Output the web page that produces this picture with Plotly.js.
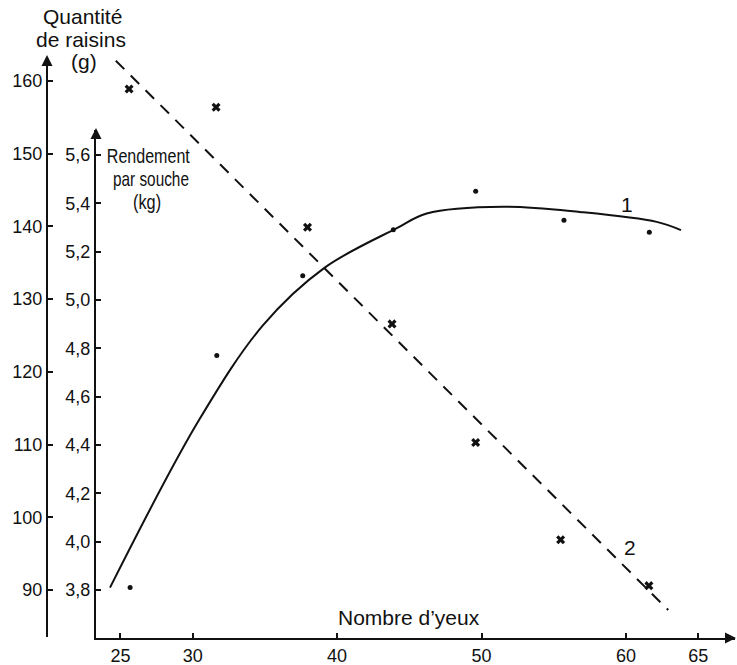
<!DOCTYPE html>
<html>
<head>
<meta charset="utf-8">
<script src="https://cdn.plot.ly/plotly-3.0.1.min.js"></script>
<style>
  html, body { margin: 0; padding: 0; background: #fff; }
  #chart { width: 737px; height: 665px; }
</style>
</head>
<body>
<div id="chart"></div>
<script>
// ---- data ----
// Rendement par souche (kg) – dots
const yieldX = [25.67, 31.67, 37.62, 43.89, 49.59, 55.70, 61.61];
const yieldKg = [3.81, 4.77, 5.10, 5.29, 5.45, 5.33, 5.28];
// Quantité de raisins (g) – crosses
const grapeX = [25.60, 31.62, 37.95, 43.80, 49.59, 55.47, 61.58];
const grapeG = [158.9, 156.4, 139.9, 126.6, 110.3, 96.9, 90.6];
// Curve 1 (drawn yield curve, kg)
const curve1X = [24.28, 30.44, 34.89, 39.12, 44.13, 46.20, 51.50, 56.81, 62.12, 63.80];
const curve1Kg = [3.810, 4.503, 4.897, 5.133, 5.297, 5.358, 5.386, 5.364, 5.323, 5.289];
// Curve 2 (drawn straight line, g)
const line2X = [24.68, 62.92];
const line2G = [162.8, 87.25];
// Ticks
const xTicks = [25, 30, 40, 50, 60, 65];
const kgTicks = [3.8, 4.0, 4.2, 4.4, 4.6, 4.8, 5.0, 5.2, 5.4, 5.6];
const kgTickText = ['3,8', '4,0', '4,2', '4,4', '4,6', '4,8', '5,0', '5,2', '5,4', '5,6'];
const gTicks = [90, 100, 110, 120, 130, 140, 150, 160];

// ---- layout helpers (pixel -> paper) ----
const W = 737, H = 665;
const M = { l: 0, r: 0, t: 0, b: 27 };
const PW = W - M.l - M.r, PH = H - M.t - M.b;
const px = v => (v - M.l) / PW;
const py = v => (PH + M.t - v) / PH;

const ink = '#111';
const fontMain = 'Liberation Sans, Arial, Helvetica, sans-serif';

const traces = [
  {
    x: curve1X, y: curve1Kg, xaxis: 'x', yaxis: 'y',
    mode: 'lines', line: { color: ink, width: 2, shape: 'spline', smoothing: 1 },
    hoverinfo: 'skip'
  },
  {
    x: yieldX, y: yieldKg, xaxis: 'x', yaxis: 'y',
    mode: 'markers', marker: { color: ink, size: 5, symbol: 'circle' }
  },
  {
    x: line2X, y: line2G, xaxis: 'x', yaxis: 'y2',
    mode: 'lines', line: { color: ink, width: 2, dash: '12px,9px' },
    hoverinfo: 'skip'
  },
  {
    x: grapeX, y: grapeG, xaxis: 'x', yaxis: 'y2',
    mode: 'markers', marker: { color: ink, size: 8, symbol: 'x' }
  }
];

function txt(text, x, y, size) {
  return {
    text: text, xref: 'paper', yref: 'paper', x: px(x), y: py(y),
    xanchor: 'center', yanchor: 'middle', showarrow: false,
    font: { family: fontMain, size: size || 21, color: ink }
  };
}
function arrow(x, y, dx, dy) {
  return {
    text: '', xref: 'paper', yref: 'paper', x: px(x), y: py(y),
    ax: dx, ay: dy, showarrow: true, arrowhead: 2, arrowsize: 1.1,
    arrowwidth: 2, arrowcolor: ink
  };
}

const axisStyle = {
  ticks: 'inside', ticklen: 5, tickwidth: 2, tickcolor: ink,
  showline: true, linewidth: 2, linecolor: ink,
  showgrid: false, zeroline: false,
  tickfont: { size: 18, color: ink, family: fontMain }
};

const layout = {
  width: W, height: H,
  margin: M,
  paper_bgcolor: '#fff', plot_bgcolor: 'rgba(0,0,0,0)',
  showlegend: false,
  font: { family: fontMain, size: 18, color: ink },
  xaxis: Object.assign({
    domain: [px(96), px(735)], range: [23.31, 67.54],
    anchor: 'y', tickmode: 'array', tickvals: xTicks
  }, axisStyle),
  yaxis: Object.assign({
    domain: [py(638), py(130)], range: [3.6014, 5.7032],
    anchor: 'x', side: 'left',
    tickmode: 'array', tickvals: kgTicks, ticktext: kgTickText
  }, axisStyle),
  yaxis2: Object.assign({
    domain: [py(637), py(57)], range: [83.536, 163.306],
    anchor: 'free', position: px(47), side: 'left',
    tickmode: 'array', tickvals: gTicks
  }, axisStyle),
  annotations: [
    txt('Quantité', 82, 16),
    txt('de raisins', 81, 39),
    txt('(g)', 84, 62),
    txt('Rendement', 148, 155, 21),
    txt('par souche', 151, 178, 21),
    txt('(kg)', 147, 201, 21),
    txt('Nombre d’yeux', 409, 617),
    txt('1', 627, 205),
    txt('2', 630, 547),
    arrow(47, 55, 0, 12),
    arrow(96, 128, 0, 12),
    arrow(737, 638, -12, 0)
  ]
};

// condensed lettering of the inner axis title (width in px in the reference)
const narrowWidths = { 'Rendement': 83, 'par souche': 76, '(kg)': 28 };

Plotly.newPlot('chart', traces, layout, { displayModeBar: false, staticPlot: true }).then(function () {
  document.querySelectorAll('#chart text.annotation-text').forEach(function (t) {
    const w = narrowWidths[t.textContent];
    if (w) {
      t.setAttribute('textLength', w);
      t.setAttribute('lengthAdjust', 'spacingAndGlyphs');
    }
  });
});
</script>
</body>
</html>
